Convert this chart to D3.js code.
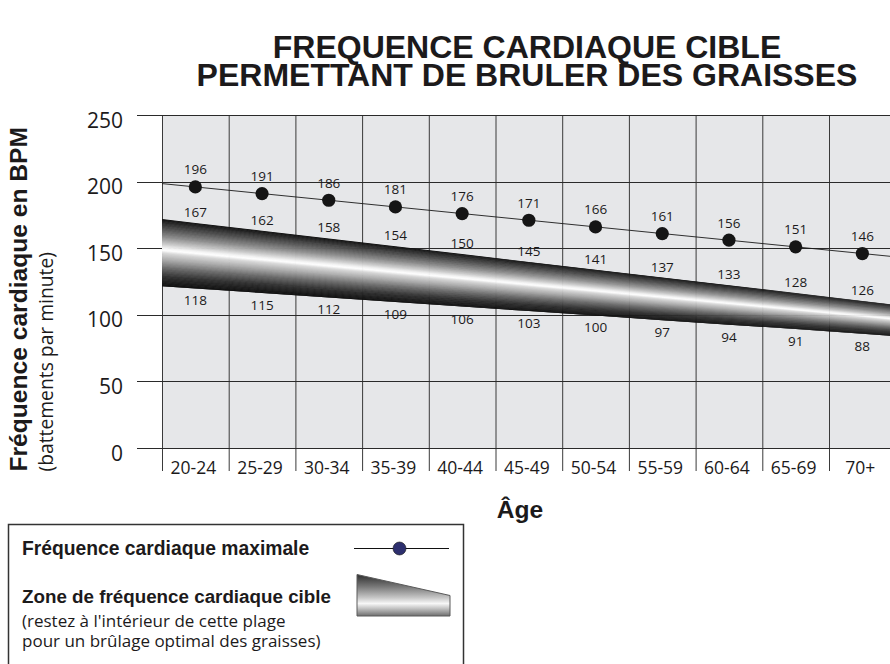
<!DOCTYPE html>
<html>
<head>
<meta charset="utf-8">
<script src="https://cdn.jsdelivr.net/npm/d3@7"></script>
<style>
  html, body { margin: 0; padding: 0; background: #fff; }
  svg { display: block; }
  .bold { font-family: "Liberation Sans", Arial, Helvetica, sans-serif; font-weight: bold; }
  .reg { font-family: "Open Sans", "Noto Sans", sans-serif; }
</style>
</head>
<body>
<svg id="chart" width="890" height="664"></svg>
<script>
// ---------------- DATA ----------------
const ageGroups = ["20-24","25-29","30-34","35-39","40-44","45-49","50-54","55-59","60-64","65-69","70+"];
const maxHR     = [196,191,186,181,176,171,166,161,156,151,146];
const zoneUpper = [167,162,158,154,150,145,141,137,133,128,126];
const zoneLower = [118,115,112,109,106,103,100,97,94,91,88];
// drawn edges of the shaded target band, read at each column centre
const bandTop    = [169.0,163.1,157.3,151.4,145.6,139.7,133.9,128.0,122.2,116.3,110.4];
const bandBottom = [119.8,116.4,113.0,109.6,106.2,102.8,99.5,96.0,92.6,89.3,85.8];
const yTicks = [0,50,100,150,200,250];

const titleLines = ["FREQUENCE CARDIAQUE CIBLE", "PERMETTANT DE BRULER DES GRAISSES"];
const legendNote = ["(restez à l'intérieur de cette plage", "pour un brûlage optimal des graisses)"];

// ---------------- LAYOUT ----------------
const plotL = 162, colW = 66.7, plotT = 115, plotB = 448, clipR = 890;
const plotR = plotL + colW * ageGroups.length;
const ink = "#1c1a1b";

const svg = d3.select("#chart");

const x = d3.scaleBand().domain(ageGroups).range([plotL, plotR]).padding(0);
const xi = d3.scaleLinear().domain([-0.5, ageGroups.length - 0.5]).range([plotL, plotR]);
const y = d3.scaleLinear().domain([0, 250]).range([plotB, plotT]);

// extend a series half a column beyond both ends (continuing its last step)
function extend(arr) {
  const n = arr.length;
  const pts = arr.map((v, i) => [i, v]);
  pts.unshift([-0.5, arr[0] - (arr[1] - arr[0]) / 2]);
  pts.push([n - 0.5, arr[n - 1] + (arr[n - 1] - arr[n - 2]) / 2]);
  return pts;
}

const defs = svg.append("defs");
defs.append("clipPath").attr("id", "plotClip")
  .append("rect").attr("x", plotL).attr("y", plotT - 20).attr("width", clipR - plotL).attr("height", plotB - plotT + 40);

// ---------------- TITLE ----------------
svg.append("text")
  .attr("class", "bold")
  .attr("text-anchor", "middle")
  .attr("font-size", 32)
  .attr("fill", ink)
  .selectAll("tspan").data(titleLines).join("tspan")
  .attr("x", 527).attr("y", (d, i) => 58 + i * 28)
  .text(d => d);

// ---------------- PLOT BACKGROUND ----------------
svg.append("rect")
  .attr("x", plotL).attr("y", plotT)
  .attr("width", clipR - plotL).attr("height", plotB - plotT)
  .attr("fill", "#e6e7e9");

// vertical grid lines / x ticks
const bounds = ageGroups.map(d => x(d));
svg.append("g").selectAll("line").data(bounds).join("line")
  .attr("x1", d => d + 0.5).attr("x2", d => d + 0.5)
  .attr("y1", plotT).attr("y2", 471)
  .attr("stroke", "#3a3a3a").attr("stroke-width", 1);

// horizontal grid lines / y ticks
svg.append("g").selectAll("line").data(yTicks).join("line")
  .attr("x1", 137).attr("x2", clipR)
  .attr("y1", d => Math.round(y(d)) + 0.5).attr("y2", d => Math.round(y(d)) + 0.5)
  .attr("stroke", "#2a2a2a").attr("stroke-width", 1.1);

// y tick labels
svg.append("g").selectAll("text").data(yTicks).join("text")
  .attr("class", "reg")
  .attr("x", 123).attr("y", d => y(d) + 12.5)
  .attr("text-anchor", "end")
  .attr("font-size", 21)
  .attr("fill", ink)
  .text(d => d);

// x tick labels
svg.append("g").selectAll("text").data(ageGroups).join("text")
  .attr("class", "reg")
  .attr("x", d => x(d) + x.bandwidth() / 2 - 2).attr("y", 473.5)
  .attr("text-anchor", "middle")
  .attr("font-size", 17.5)
  .attr("fill", ink)
  .text(d => d);

// ---------------- TARGET BAND (metallic tube) ----------------
const tubeColor = d3.scaleLinear()
  .domain([0, 0.05, 0.15, 0.27, 0.37, 0.43, 0.465, 0.51, 0.61, 0.73, 0.86, 1])
  .range(["#101010","#282828","#545454","#8e8e8e","#c9c9c9","#f2f2f2","#ffffff","#d8d8d8","#a9a9a9","#6a6a6a","#313131","#0f0f0f"])
  .interpolate(d3.interpolateRgb);

const topPts = extend(bandTop), botPts = extend(bandBottom);
const bandPts = topPts.map((p, i) => ({ i: p[0], top: p[1], bot: botPts[i][1] }));
const N = 120;
const strips = d3.range(N).map(k => ({ t0: k / N, t1: Math.min(1, (k + 2) / N), c: tubeColor((k + 0.5) / N) }));

const plotG = svg.append("g").attr("clip-path", "url(#plotClip)");
const bandG = plotG.append("g");
bandG.selectAll("path").data(strips).join("path")
  .attr("d", s => d3.area()
      .x(p => xi(p.i))
      .y0(p => y(p.top + (p.bot - p.top) * s.t0))
      .y1(p => y(p.top + (p.bot - p.top) * s.t1))(bandPts))
  .attr("fill", s => s.c);

// ---------------- MAX HEART RATE LINE ----------------
plotG.append("path")
  .datum(extend(maxHR))
  .attr("d", d3.line().x(p => xi(p[0])).y(p => y(p[1])))
  .attr("fill", "none").attr("stroke", "#1a1a1a").attr("stroke-width", 0.9);

svg.append("g").selectAll("circle").data(maxHR).join("circle")
  .attr("cx", (d, i) => xi(i)).attr("cy", d => y(d))
  .attr("r", 6.6).attr("fill", "#151515");

// ---------------- VALUE LABELS ----------------
const lab = (data, yf) => svg.append("g").selectAll("text").data(data).join("text")
  .attr("class", "reg")
  .attr("x", (d, i) => xi(i)).attr("y", yf)
  .attr("text-anchor", "middle")
  .attr("font-size", 13.5)
  .attr("fill", ink)
  .text(d => d);

lab(maxHR, d => y(d) - 12.5);
lab(zoneUpper, (d, i) => y(bandTop[i]) - 6);
lab(zoneLower, (d, i) => y(bandBottom[i]) + 17);

// ---------------- AXIS TITLES ----------------
svg.append("text")
  .attr("class", "bold")
  .attr("transform", "translate(26.5,471.5) rotate(-90)")
  .attr("font-size", 24.6).attr("fill", ink)
  .text("Fréquence cardiaque en BPM");
svg.append("text")
  .attr("class", "reg")
  .attr("transform", "translate(53,471.5) rotate(-90)")
  .attr("font-size", 19.3).attr("fill", ink)
  .text("(battements par minute)");

svg.append("text")
  .attr("class", "bold")
  .attr("x", 520).attr("y", 518)
  .attr("text-anchor", "middle")
  .attr("font-size", 24.6).attr("fill", ink)
  .text("Âge");

// ---------------- LEGEND ----------------
const lg = svg.append("g").attr("transform", "translate(8,524.5)");
lg.append("rect").attr("x", 0.5).attr("y", 0).attr("width", 455).attr("height", 200)
  .attr("fill", "none").attr("stroke", "#333").attr("stroke-width", 1.5);

lg.append("text").attr("class", "bold").attr("x", 14).attr("y", 30.5)
  .attr("font-size", 19.3).attr("fill", ink).text("Fréquence cardiaque maximale");
lg.append("line").attr("x1", 346).attr("x2", 441).attr("y1", 24).attr("y2", 24)
  .attr("stroke", "#111").attr("stroke-width", 1);
lg.append("circle").attr("cx", 391.5).attr("cy", 24).attr("r", 6.5)
  .attr("fill", "#2d2f6e").attr("stroke", "#111").attr("stroke-width", 0.6);

lg.append("text").attr("class", "bold").attr("x", 14).attr("y", 78)
  .attr("font-size", 18.8).attr("fill", ink).text("Zone de fréquence cardiaque cible");
lg.append("text").attr("class", "reg")
  .attr("font-size", 17).attr("fill", ink)
  .selectAll("tspan").data(legendNote).join("tspan")
  .attr("x", 14).attr("y", (d, i) => 102 + i * 20.5)
  .text(d => d);

const lgGrad = defs.append("linearGradient").attr("id", "lgGrad")
  .attr("x1", 0).attr("y1", 0).attr("x2", 0).attr("y2", 1);
[[0, "#2e2e2e"], [0.3, "#7a7a7a"], [0.55, "#c4c4c4"], [0.7, "#f7f7f7"], [0.82, "#c2c2c2"], [1, "#6e6e6e"]]
  .forEach(([o, c]) => lgGrad.append("stop").attr("offset", o).attr("stop-color", c));
lg.append("path")
  .attr("d", "M349,50 L442,71 L442,91.5 L349,91.5 Z")
  .attr("fill", "url(#lgGrad)").attr("stroke", "#5a5a5a").attr("stroke-width", 1);
</script>
</body>
</html>
